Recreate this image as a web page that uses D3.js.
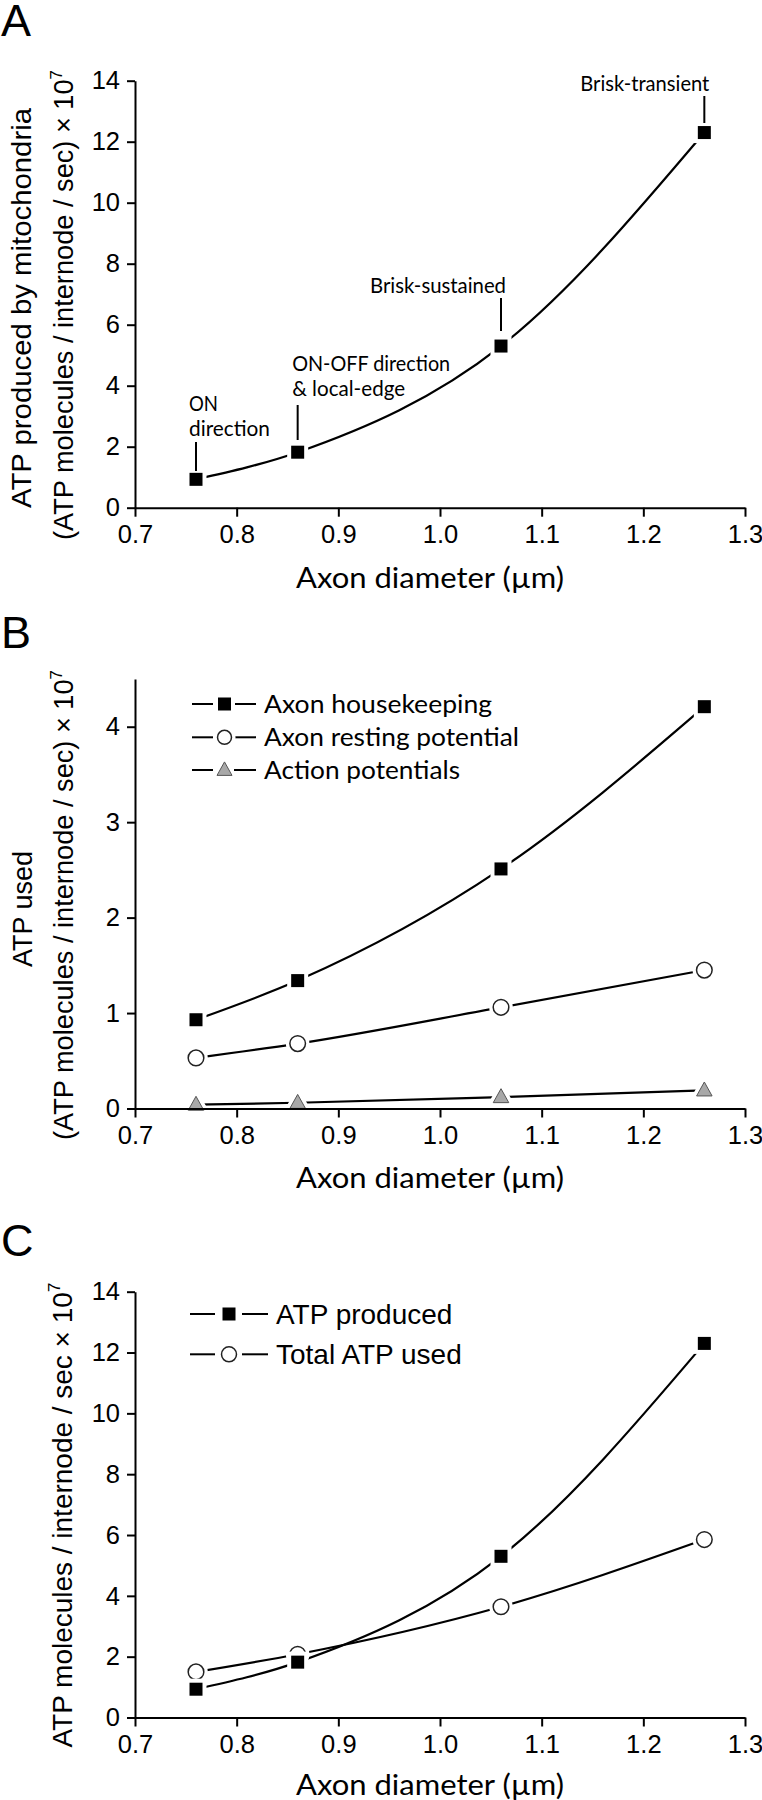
<!DOCTYPE html>
<html>
<head>
<meta charset="utf-8">
<script src="https://cdn.jsdelivr.net/npm/d3@7"></script>
<style>
  html, body { margin: 0; padding: 0; background: #fff; }
  svg { display: block; }
</style>
</head>
<body>
<script>
// ---------------- DATA ----------------
const axonDiameter = [0.76, 0.86, 1.06, 1.26];
const atpProduced = [0.93, 1.82, 5.3, 12.3];
const axonHousekeeping = [0.93, 1.34, 2.51, 4.21];
const axonRestingPotential = [0.53, 0.68, 1.06, 1.45];
const actionPotentials = [0.04, 0.06, 0.12, 0.19];
const totalAtpUsed = [1.5, 2.08, 3.64, 5.85];

const xTickValues = [0.7, 0.8, 0.9, 1.0, 1.1, 1.2, 1.3];
const yTicksA = [0, 2, 4, 6, 8, 10, 12, 14];
const yTicksB = [0, 1, 2, 3, 4];
const yTicksC = [0, 2, 4, 6, 8, 10, 12, 14];

const cellTypeLabels = [["ON", "direction"], ["ON-OFF direction", "& local-edge"], ["Brisk-sustained"], ["Brisk-transient"]];
const legendB = ["Axon housekeeping", "Axon resting potential", "Action potentials"];
const legendC = ["ATP produced", "Total ATP used"];

// ---------------- SETUP ----------------
const W = 762, H = 1800;
const svg = d3.select("body").append("svg").attr("width", W).attr("height", H);
const ARIAL = "'Liberation Sans', Arial, Helvetica, sans-serif";
const MYRIAD = "Lato, 'Open Sans', sans-serif";

const x = d3.scaleLinear().domain([0.7, 1.3]).range([135, 745]);

function drawAxes(g, y, yTicks) {
  const xa = g.append("g").attr("transform", `translate(0,${y(0)})`)
    .call(d3.axisBottom(x).tickValues(xTickValues).tickSize(9).tickPadding(8).tickSizeOuter(0).tickFormat(d3.format(".1f")));
  const ya = g.append("g").attr("transform", `translate(${x(0.7)},0)`)
    .call(d3.axisLeft(y).tickValues(yTicks).tickSize(8).tickPadding(7).tickSizeOuter(0).tickFormat(d3.format("d")));
  [xa, ya].forEach(a => {
    a.selectAll("path, line").attr("stroke", "#000").attr("stroke-width", 2);
    a.selectAll("text").attr("font-family", ARIAL).attr("font-size", 25.5).attr("fill", "#000");
  });
}

function drawLine(g, y, vals) {
  const line = d3.line().x((d, i) => x(axonDiameter[i])).y(d => y(d)).curve(d3.curveMonotoneX);
  g.append("path").attr("d", line(vals)).attr("fill", "none").attr("stroke", "#000").attr("stroke-width", 2.2);
}

function square(g, cx, cy, s) {
  g.append("rect").attr("x", cx - s / 2 - 4).attr("y", cy - s / 2 - 4).attr("width", s + 8).attr("height", s + 8).attr("fill", "#fff");
  g.append("rect").attr("x", cx - s / 2).attr("y", cy - s / 2).attr("width", s).attr("height", s).attr("fill", "#000");
}
function circle(g, cx, cy, r) {
  g.append("circle").attr("cx", cx).attr("cy", cy).attr("r", r + 4).attr("fill", "#fff");
  g.append("circle").attr("cx", cx).attr("cy", cy).attr("r", r).attr("fill", "#fff").attr("stroke", "#222").attr("stroke-width", 1.5);
}
function triangle(g, cx, cy, w) {
  const h = w * 0.9;
  const pts = [[cx, cy - h * 0.6], [cx + w / 2, cy + h * 0.4], [cx - w / 2, cy + h * 0.4]];
  g.append("polygon").attr("points", pts.map(p => p.join(",")).join(" ")).attr("fill", "#fff").attr("stroke", "#fff").attr("stroke-width", 8).attr("stroke-linejoin", "round");
  g.append("polygon").attr("points", pts.map(p => p.join(",")).join(" ")).attr("fill", "#a8a8a8").attr("stroke", "#555").attr("stroke-width", 1);
}

function yTitle(g, cx, cy, parts, size, len) {
  const t = g.append("text").attr("transform", `translate(${cx},${cy}) rotate(-90)`)
    .attr("text-anchor", "middle").attr("font-family", ARIAL).attr("font-size", size).attr("fill", "#000");
  parts.forEach(p => {
    const ts = t.append("tspan").text(p.t);
    if (p.sup) ts.attr("font-size", size * 0.62).attr("dy", -size * 0.42);
  });
  if (len) t.attr("textLength", len).attr("lengthAdjust", "spacingAndGlyphs");
}

function xTitle(g, baseY) {
  g.append("text").attr("x", 296).attr("y", baseY).attr("font-family", MYRIAD).attr("font-size", 28)
    .attr("textLength", 268).attr("lengthAdjust", "spacingAndGlyphs").text("Axon diameter (\u00b5m)");
}

function panelLetter(g, letter, baseY) {
  g.append("text").attr("x", 1).attr("y", baseY).attr("font-family", ARIAL).attr("font-size", 45).text(letter);
}

// ---------------- PANEL A ----------------
{
  const g = svg.append("g");
  const y = d3.scaleLinear().domain([0, 14]).range([507.7, 80.7]);
  panelLetter(g, "A", 36);
  drawLine(g, y, atpProduced);
  atpProduced.forEach((v, i) => square(g, x(axonDiameter[i]), y(v), 13));
  drawAxes(g, y, yTicksA);
  yTitle(g, 31, 308, [{ t: "ATP produced by mitochondria" }], 28, 400);
  yTitle(g, 73, 305, [{ t: "(ATP molecules / internode / sec) \u00d7 10" }, { t: "7", sup: true }], 27, 470);
  xTitle(g, 587.5);

  // annotations: label lines + leader lines
  const ann = [
    { i: 0, anchor: "start", dx: -7, lines: cellTypeLabels[0], lens: [29, 81], base: [411, 436], l1: 442, l2: 471 },
    { i: 1, anchor: "start", dx: -5.5, lines: cellTypeLabels[1], lens: [158, 113], base: [371, 396], l1: 405, l2: 440 },
    { i: 2, anchor: "end", dx: 5, lines: cellTypeLabels[2], lens: [136], base: [293], l1: 298, l2: 331 },
    { i: 3, anchor: "end", dx: 5, lines: cellTypeLabels[3], lens: [129], base: [91], l1: 96, l2: 123 }
  ];
  ann.forEach(a => {
    const cx = x(axonDiameter[a.i]);
    a.lines.forEach((ln, k) => {
      g.append("text").attr("x", cx + a.dx).attr("y", a.base[k]).attr("text-anchor", a.anchor)
        .attr("font-family", MYRIAD).attr("font-size", 21)
        .attr("textLength", a.lens[k]).attr("lengthAdjust", "spacingAndGlyphs").text(ln);
    });
    g.append("line").attr("x1", cx).attr("x2", cx).attr("y1", a.l1).attr("y2", a.l2).attr("stroke", "#000").attr("stroke-width", 2);
  });
}

// ---------------- PANEL B ----------------
{
  const g = svg.append("g");
  const y = d3.scaleLinear().domain([0, 4.5]).range([1108.5, 679]);
  panelLetter(g, "B", 648);
  drawLine(g, y, axonHousekeeping);
  drawLine(g, y, axonRestingPotential);
  drawLine(g, y, actionPotentials);
  axonHousekeeping.forEach((v, i) => square(g, x(axonDiameter[i]), y(v), 13));
  axonRestingPotential.forEach((v, i) => circle(g, x(axonDiameter[i]), y(v), 7.8));
  actionPotentials.forEach((v, i) => triangle(g, x(axonDiameter[i]), y(v), 15.5));
  drawAxes(g, y, yTicksB);
  yTitle(g, 32, 909, [{ t: "ATP used" }], 27);
  yTitle(g, 73, 905, [{ t: "(ATP molecules / internode / sec) \u00d7 10" }, { t: "7", sup: true }], 27, 470);
  xTitle(g, 1188);

  // legend
  const rows = [704, 737.3, 770];
  const lens = [228, 255, 196];
  rows.forEach((ry, k) => {
    g.append("line").attr("x1", 192).attr("x2", 213).attr("y1", ry).attr("y2", ry).attr("stroke", "#000").attr("stroke-width", 2);
    g.append("line").attr("x1", 234).attr("x2", 256).attr("y1", ry).attr("y2", ry).attr("stroke", "#000").attr("stroke-width", 2);
    if (k === 0) square(g, 224.5, ry, 13);
    if (k === 1) circle(g, 224.5, ry, 7);
    if (k === 2) triangle(g, 224.5, ry, 15);
    g.append("text").attr("x", 264).attr("y", ry + 8.5).attr("font-family", MYRIAD).attr("font-size", 25)
      .attr("textLength", lens[k]).attr("lengthAdjust", "spacingAndGlyphs").text(legendB[k]);
  });
}

// ---------------- PANEL C ----------------
{
  const g = svg.append("g");
  const y = d3.scaleLinear().domain([0, 14]).range([1717.5, 1291.7]);
  panelLetter(g, "C", 1256);
  drawLine(g, y, atpProduced);
  drawLine(g, y, totalAtpUsed);
  totalAtpUsed.forEach((v, i) => circle(g, x(axonDiameter[i]), y(v), 7.8));
  atpProduced.forEach((v, i) => square(g, x(axonDiameter[i]), y(v), 13));
  drawAxes(g, y, yTicksC);
  yTitle(g, 72, 1515, [{ t: "ATP molecules / internode / sec \u00d7 10" }, { t: "7", sup: true }], 27.5, 465);
  xTitle(g, 1795);

  const rows = [1314, 1354.3];
  rows.forEach((ry, k) => {
    g.append("line").attr("x1", 190).attr("x2", 215).attr("y1", ry).attr("y2", ry).attr("stroke", "#000").attr("stroke-width", 2);
    g.append("line").attr("x1", 242).attr("x2", 268).attr("y1", ry).attr("y2", ry).attr("stroke", "#000").attr("stroke-width", 2);
    if (k === 0) square(g, 229, ry, 13);
    if (k === 1) circle(g, 229, ry, 7.5);
    g.append("text").attr("x", 276).attr("y", ry + 10).attr("font-family", ARIAL).attr("font-size", 28).text(legendC[k]);
  });
}
</script>
</body>
</html>
